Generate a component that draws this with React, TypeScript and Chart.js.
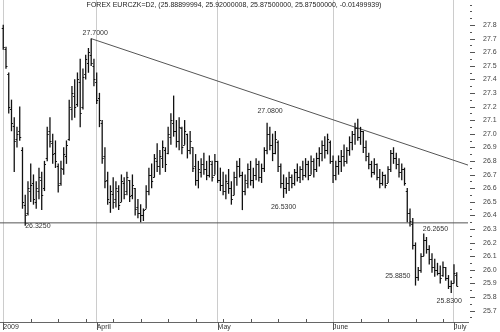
import React, { useEffect, useRef } from "react";
import { Chart, registerables } from "chart.js";

Chart.register(...registerables);

const TITLE =
  "FOREX EURCZK=D2, (25.88899994, 25.92000008, 25.87500000, 25.87500000, -0.01499939)";

// x axis: trading-day index (0 = first session shown)
const monthTickDays = [0, 17, 39, 60, 82];
const monthLabels = ["2009", "April", "May", "June", "July"];
const weekTickDays = [5, 10, 15, 20, 25, 30, 35, 40, 45, 50, 55, 65, 70, 75, 80];
const yLabelTicks = [
  25.7, 25.8, 25.9, 26.0, 26.1, 26.2, 26.3, 26.4, 26.5, 26.6, 26.7,
  26.8, 26.9, 27.0, 27.1, 27.2, 27.3, 27.4, 27.5, 27.6, 27.7, 27.8,
];
const BAR_STEP_DAYS = 0.5;

const highs = [
  27.80, 27.64, 27.45, 27.25, 27.12, 27.05, 27.20, 26.90, 26.55, 26.65,
  26.78, 26.70, 26.65, 26.75, 26.72, 26.80, 27.05, 27.12, 27.00, 26.95,
  26.78, 26.80, 26.90, 26.95, 27.25, 27.35, 27.40, 27.45, 27.55, 27.48,
  27.58, 27.63, 27.70, 27.55, 27.45, 27.30, 27.10, 26.90, 26.72, 26.62,
  26.68, 26.65, 26.62, 26.70, 26.68, 26.72, 26.66, 26.70, 26.60, 26.52,
  26.48, 26.45, 26.62, 26.75, 26.78, 26.85, 26.93, 26.88, 26.95, 26.90,
  27.05, 27.15, 27.28, 27.10, 27.12, 27.05, 27.10, 27.00, 27.02, 26.90,
  26.85, 26.80, 26.82, 26.86, 26.80, 26.84, 26.80, 26.85, 26.80, 26.75,
  26.72, 26.70, 26.74, 26.65, 26.72, 26.80, 26.82, 26.72, 26.70, 26.78,
  26.80, 26.75, 26.82, 26.80, 26.78, 26.90, 27.08, 27.05, 27.00, 27.02,
  26.95, 26.78, 26.70, 26.68, 26.72, 26.70, 26.74, 26.78, 26.76, 26.80,
  26.82, 26.80, 26.84, 26.82, 26.86, 26.90, 26.95, 26.98, 27.00, 26.95,
  26.84, 26.80, 26.84, 26.88, 26.92, 26.90, 26.98, 27.02, 27.08, 27.11,
  27.05, 27.02, 26.95, 26.86, 26.80, 26.82, 26.78, 26.74, 26.72, 26.70,
  26.76, 26.88, 26.90, 26.86, 26.82, 26.78, 26.75, 26.60, 26.45, 26.38,
  26.20, 26.02, 26.12, 26.265, 26.24, 26.18, 26.12, 26.08, 26.05, 26.03,
  26.06, 26.02, 25.96, 25.92, 26.04, 25.98,
];
const lows = [
  27.62, 27.48, 27.15, 27.02, 26.72, 26.90, 26.95, 26.45, 26.325, 26.40,
  26.50, 26.48, 26.45, 26.52, 26.44, 26.58, 26.80, 26.90, 26.78, 26.75,
  26.57, 26.62, 26.70, 26.78, 26.95, 27.10, 27.12, 27.20, 27.05, 27.18,
  27.40, 27.45, 27.50, 27.35, 27.22, 27.05, 26.78, 26.60, 26.48, 26.42,
  26.45, 26.46, 26.44, 26.50, 26.52, 26.55, 26.50, 26.52, 26.40, 26.38,
  26.35, 26.36, 26.45, 26.55, 26.60, 26.68, 26.72, 26.70, 26.75, 26.72,
  26.85, 26.92, 26.98, 26.90, 26.88, 26.85, 26.92, 26.82, 26.85, 26.72,
  26.62, 26.60, 26.68, 26.70, 26.66, 26.68, 26.65, 26.70, 26.64, 26.58,
  26.55, 26.52, 26.56, 26.48, 26.55, 26.62, 26.68, 26.44, 26.55, 26.60,
  26.62, 26.60, 26.66, 26.65, 26.64, 26.72, 26.85, 26.88, 26.80, 26.85,
  26.72, 26.60, 26.53, 26.56, 26.58, 26.60, 26.62, 26.65, 26.64, 26.66,
  26.68, 26.66, 26.70, 26.68, 26.72, 26.76, 26.80, 26.82, 26.85, 26.78,
  26.64, 26.66, 26.70, 26.72, 26.76, 26.78, 26.84, 26.88, 26.92, 26.95,
  26.92, 26.86, 26.80, 26.74, 26.68, 26.70, 26.66, 26.60, 26.62, 26.60,
  26.64, 26.72, 26.78, 26.74, 26.68, 26.66, 26.62, 26.35, 26.32, 26.15,
  25.885, 25.92, 25.98, 26.10, 26.12, 26.04, 25.98, 25.95, 25.96, 25.90,
  25.95, 25.92, 25.86, 25.83, 25.90, 25.88,
];
const opens = [
  27.78, 27.62, 27.44, 27.18, 27.06, 26.96, 27.02, 26.88, 26.48, 26.42,
  26.58, 26.64, 26.50, 26.58, 26.66, 26.60, 26.82, 27.02, 26.93, 26.86,
  26.76, 26.64, 26.74, 26.84, 26.96, 27.18, 27.28, 27.22, 27.38, 27.20,
  27.44, 27.52, 27.58, 27.50, 27.38, 27.26, 27.08, 26.84, 26.66, 26.50,
  26.56, 26.52, 26.58, 26.50, 26.64, 26.58, 26.66, 26.55, 26.60, 26.46,
  26.42, 26.40, 26.45, 26.58, 26.70, 26.68, 26.80, 26.76, 26.82, 26.88,
  26.86, 26.98, 27.08, 27.02, 26.95, 27.04, 26.92, 27.00, 26.88, 26.90,
  26.76, 26.66, 26.72, 26.78, 26.74, 26.70, 26.78, 26.70, 26.80, 26.66,
  26.62, 26.58, 26.64, 26.60, 26.55, 26.68, 26.76, 26.70, 26.58, 26.64,
  26.74, 26.66, 26.70, 26.78, 26.68, 26.75, 26.88, 27.00, 26.92, 26.86,
  26.94, 26.76, 26.64, 26.60, 26.64, 26.68, 26.64, 26.72, 26.68, 26.74,
  26.70, 26.78, 26.70, 26.80, 26.74, 26.82, 26.86, 26.92, 26.88, 26.94,
  26.80, 26.70, 26.76, 26.80, 26.84, 26.80, 26.88, 26.94, 27.00, 27.04,
  26.98, 27.02, 26.90, 26.84, 26.78, 26.72, 26.78, 26.68, 26.64, 26.70,
  26.64, 26.74, 26.86, 26.82, 26.78, 26.72, 26.74, 26.58, 26.42, 26.34,
  26.18, 25.95, 26.00, 26.10, 26.22, 26.15, 26.08, 26.02, 26.00, 25.98,
  25.96, 26.02, 25.94, 25.88, 25.90, 25.96,
];
const closes = [
  27.64, 27.50, 27.20, 27.08, 26.95, 27.00, 26.98, 26.50, 26.40, 26.60,
  26.62, 26.52, 26.60, 26.68, 26.55, 26.78, 27.00, 26.95, 26.85, 26.80,
  26.62, 26.75, 26.85, 26.92, 27.20, 27.30, 27.20, 27.40, 27.15, 27.42,
  27.55, 27.60, 27.52, 27.40, 27.25, 27.10, 26.82, 26.65, 26.52, 26.58,
  26.50, 26.60, 26.48, 26.65, 26.56, 26.68, 26.54, 26.62, 26.45, 26.42,
  26.40, 26.44, 26.58, 26.70, 26.65, 26.82, 26.76, 26.84, 26.90, 26.78,
  27.00, 27.10, 27.02, 26.95, 27.05, 26.90, 27.02, 26.88, 26.95, 26.75,
  26.66, 26.74, 26.78, 26.74, 26.70, 26.80, 26.68, 26.80, 26.66, 26.62,
  26.58, 26.65, 26.60, 26.52, 26.68, 26.76, 26.70, 26.58, 26.66, 26.74,
  26.66, 26.70, 26.78, 26.68, 26.75, 26.88, 27.00, 26.92, 26.86, 26.96,
  26.76, 26.64, 26.60, 26.64, 26.68, 26.64, 26.72, 26.68, 26.74, 26.70,
  26.78, 26.70, 26.80, 26.74, 26.82, 26.86, 26.92, 26.88, 26.96, 26.80,
  26.70, 26.76, 26.80, 26.84, 26.80, 26.88, 26.94, 27.00, 27.04, 26.98,
  27.02, 26.90, 26.84, 26.78, 26.72, 26.78, 26.68, 26.64, 26.70, 26.62,
  26.74, 26.86, 26.82, 26.78, 26.72, 26.74, 26.64, 26.42, 26.36, 26.18,
  25.95, 26.00, 26.10, 26.22, 26.15, 26.08, 26.02, 26.00, 25.98, 25.94,
  26.02, 25.94, 25.88, 25.90, 25.98, 25.88,
];

// drawn lines
const trendDays = [16, 84.55];
const trendValues = [27.7, 26.77];
const supportValue = 26.345;

// marked extremes (bar index and which end of the bar)
const markedBars = [32, 96, 102, 8, 153, 150, 163];
const markedSides = ["high", "high", "low", "low", "high", "low", "low"];

// ---- layout / style ----
const X_MIN = -0.59;
const X_MAX = 84.55;
const Y_MIN = 25.616;
const Y_MAX = 27.984;
const FONT_FAMILY = '"Liberation Sans", Arial, sans-serif';
const labelPlacement: { align: CanvasTextAlign; dx: number; dy: number }[] = [
  { align: "center", dx: 4, dy: -3.5 },
  { align: "center", dx: 3, dy: -10 },
  { align: "center", dx: 0, dy: 11 },
  { align: "left", dx: 0, dy: 2.5 },
  { align: "left", dx: -1, dy: -3 },
  { align: "right", dx: -5, dy: -7 },
  { align: "center", dx: -2, dy: 10 },
];

const ohlcTicksPlugin = {
  id: "ohlcTicks",
  afterDatasetsDraw(chart: any) {
    const { ctx, chartArea: a, scales } = chart;
    const xs = scales.x;
    const ys = scales.y;
    ctx.save();
    ctx.beginPath();
    ctx.rect(a.left, a.top, a.right - a.left, a.bottom - a.top);
    ctx.clip();
    ctx.strokeStyle = "#111";
    ctx.lineWidth = 1;
    ctx.beginPath();
    for (let i = 0; i < highs.length; i++) {
      const px = xs.getPixelForValue(i * BAR_STEP_DAYS);
      const po = Math.round(ys.getPixelForValue(opens[i])) + 0.5;
      const pc = Math.round(ys.getPixelForValue(closes[i])) + 0.5;
      ctx.moveTo(px - 1.5, po);
      ctx.lineTo(px, po);
      ctx.moveTo(px, pc);
      ctx.lineTo(px + 1.5, pc);
    }
    ctx.stroke();
    ctx.restore();
  },
};

const decorPlugin = {
  id: "decor",
  afterDraw(chart: any) {
    const { ctx, chartArea: a, scales } = chart;
    const xs = scales.x;
    const ys = scales.y;
    ctx.save();
    ctx.strokeStyle = "#555";
    ctx.lineWidth = 1;
    ctx.beginPath();
    // y axis dashes every 0.05
    for (let k = 0; k <= 46; k++) {
      const v = 25.65 + k * 0.05;
      const py = Math.round(ys.getPixelForValue(v)) + 0.5;
      const labelled = yLabelTicks.some((t) => Math.abs(t - v) < 1e-6);
      ctx.moveTo(a.right + 2, py);
      ctx.lineTo(a.right + (labelled ? 7 : 4), py);
    }
    // weekly ticks above the axis line
    for (const d of weekTickDays) {
      const px = Math.round(xs.getPixelForValue(d)) + 0.5;
      ctx.moveTo(px, a.bottom);
      ctx.lineTo(px, a.bottom - 3);
    }
    // month ticks below the axis line
    for (const d of monthTickDays) {
      const px = Math.round(xs.getPixelForValue(d)) + 0.5;
      ctx.moveTo(px, a.bottom);
      ctx.lineTo(px, a.bottom + 8);
    }
    ctx.stroke();

    // extreme value labels
    ctx.font = `7px ${FONT_FAMILY}`;
    ctx.fillStyle = "#333";
    ctx.textBaseline = "alphabetic";
    markedBars.forEach((bi, k) => {
      const val = markedSides[k] === "high" ? highs[bi] : lows[bi];
      const px = xs.getPixelForValue(bi * BAR_STEP_DAYS);
      const py = ys.getPixelForValue(val);
      const p = labelPlacement[k];
      ctx.textAlign = p.align;
      ctx.fillText(val.toFixed(4), px + p.dx, py + p.dy);
    });

    // title
    ctx.fillStyle = "#222";
    ctx.textAlign = "center";
    ctx.textBaseline = "top";
    ctx.fillText(TITLE, (a.left + a.right) / 2, 2);
    ctx.restore();
  },
};

export default function App() {
  const canvasRef = useRef<HTMLCanvasElement | null>(null);

  useEffect(() => {
    document.body.style.margin = "0";
    const canvas = canvasRef.current;
    if (!canvas) return;
    const chart = new Chart(canvas, {
      type: "bar",
      data: {
        datasets: [
          {
            type: "bar",
            label: "EURCZK range",
            data: highs.map((h, i) => ({ x: i * BAR_STEP_DAYS, y: [lows[i], h] })) as any,
            backgroundColor: "#111",
            borderWidth: 0,
            barThickness: 1,
            inflateAmount: 0.15,
          } as any,
          {
            type: "line",
            label: "trend",
            data: trendDays.map((d, i) => ({ x: d, y: trendValues[i] })),
            borderColor: "#555",
            borderWidth: 1,
            pointRadius: 0,
          } as any,
          {
            type: "line",
            label: "support",
            data: [
              { x: X_MIN, y: supportValue },
              { x: X_MAX, y: supportValue },
            ],
            borderColor: "#555",
            borderWidth: 1,
            pointRadius: 0,
          } as any,
        ],
      },
      options: {
        responsive: false,
        animation: false,
        devicePixelRatio: 1,
        layout: { padding: 0, autoPadding: false },
        plugins: {
          legend: { display: false },
          tooltip: { enabled: false },
          title: { display: false },
        },
        scales: {
          x: {
            type: "linear",
            min: X_MIN,
            max: X_MAX,
            offset: false,
            grid: { offset: false, color: "#cccccc", drawTicks: false },
            border: { display: true, color: "#666" },
            afterBuildTicks: (s: any) => {
              s.ticks = monthTickDays.map((v) => ({ value: v }));
            },
            afterFit: (s: any) => {
              s.height = 10;
              s.paddingLeft = 0;
              s.paddingRight = 0;
            },
            ticks: {
              autoSkip: false,
              maxRotation: 0,
              minRotation: 0,
              align: "start",
              padding: 1,
              color: "#333",
              font: { family: FONT_FAMILY, size: 7 },
              callback: (_v: any, i: number) => monthLabels[i],
            },
          },
          y: {
            type: "linear",
            position: "right",
            min: Y_MIN,
            max: Y_MAX,
            beginAtZero: false,
            grid: {
              display: true,
              drawOnChartArea: false,
              drawTicks: true,
              tickLength: 15,
              tickColor: "rgba(0,0,0,0)",
            },
            border: { display: false },
            afterBuildTicks: (s: any) => {
              s.ticks = yLabelTicks.map((v) => ({ value: v }));
            },
            afterFit: (s: any) => {
              s.width = 32;
              s.paddingTop = 0;
              s.paddingBottom = 0;
            },
            ticks: {
              autoSkip: false,
              padding: 0,
              color: "#444",
              font: { family: FONT_FAMILY, size: 7 },
              callback: (v: any) => Number(v).toFixed(1),
            },
          },
        },
      } as any,
      plugins: [ohlcTicksPlugin, decorPlugin],
    });
    return () => chart.destroy();
  }, []);

  return (
    <div style={{ width: 500, height: 332, position: "relative", background: "#fff" }}>
      <canvas ref={canvasRef} width={500} height={332} style={{ width: 500, height: 332, display: "block" }} />
    </div>
  );
}
